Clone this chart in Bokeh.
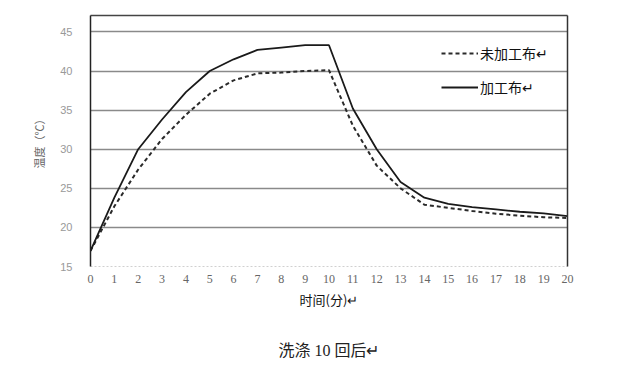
from bokeh.plotting import figure
from bokeh.models import (ColumnDataSource, FixedTicker, LinearAxis, Range1d,
                          Legend, LegendItem)
from bokeh.embed import file_html
from bokeh.resources import INLINE

minutes = list(range(21))
untreated = [17.0, 22.7, 27.4, 31.3, 34.4, 37.1, 38.8, 39.7, 39.8, 40.0, 40.1,
             33.0, 27.9, 25.0, 22.9, 22.5, 22.1, 21.75, 21.5, 21.3, 21.2]
treated = [17.0, 23.8, 30.0, 33.8, 37.3, 40.0, 41.5, 42.7, 43.0, 43.3, 43.3,
           35.2, 30.0, 25.8, 23.8, 23.0, 22.6, 22.3, 22.0, 21.8, 21.45]
y_ticks = [15, 20, 25, 30, 35, 40, 45]
x_ticks = list(range(21))
label_untreated = "未加工布↵"
label_treated = "加工布↵"
x_label = "时间(分)↵"
y_label = "温度（℃）"
caption = "洗涤 10 回后↵"

src = ColumnDataSource(dict(t=minutes, u=untreated, v=treated))

p = figure(width=606, height=362, output_backend="svg", toolbar_location=None,
           x_range=Range1d(0, 20), y_range=Range1d(15, 47.1),
           min_border_left=90, min_border_right=39, min_border_top=15,
           min_border_bottom=96)
p.outline_line_color = None
p.background_fill_color = "white"
p.border_fill_color = "white"

# grid
p.xgrid.visible = False
p.ygrid.ticker = FixedTicker(ticks=y_ticks[1:])
p.ygrid.grid_line_color = "#8a8a8a"
p.ygrid.grid_line_width = 1.5

# axes
xa = p.xaxis[0]
xa.ticker = FixedTicker(ticks=x_ticks)
xa.axis_line_color = "#d0d0d0"
xa.axis_line_dash = "2 2"
xa.major_tick_line_color = None
xa.minor_tick_line_color = None
xa.major_label_standoff = 2
xa.major_label_text_font = "Liberation Serif"
xa.major_label_text_font_size = "12px"
xa.major_label_text_color = "#666666"
xa.axis_label = x_label
xa.axis_label_text_font = "Noto Sans CJK SC"
xa.axis_label_text_font_size = "13px"
xa.axis_label_text_font_style = "normal"
xa.axis_label_text_color = "#111111"
xa.axis_label_standoff = 4

# caption as the label of a bare axis stacked below the x axis
cap_ax = LinearAxis(ticker=FixedTicker(ticks=[]), axis_line_color=None,
                    major_tick_line_color=None, minor_tick_line_color=None,
                    major_label_text_font_size="0px",
                    axis_label=caption, axis_label_standoff=30,
                    axis_label_text_font="Liberation Serif, Noto Sans CJK SC",
                    axis_label_text_font_size="16px",
                    axis_label_text_font_style="normal",
                    axis_label_text_color="#222222")
p.add_layout(cap_ax, "below")

ya = p.yaxis[0]
ya.ticker = FixedTicker(ticks=y_ticks)
ya.axis_line_color = "#222222"
ya.axis_line_width = 1.5
ya.major_tick_line_color = None
ya.minor_tick_line_color = None
ya.major_label_standoff = 12
ya.major_label_text_font = "Liberation Sans"
ya.major_label_text_font_size = "11px"
ya.major_label_text_color = "#999999"
ya.axis_label = y_label
ya.axis_label_text_font = "Noto Sans CJK SC"
ya.axis_label_text_font_size = "11px"
ya.axis_label_text_font_style = "normal"
ya.axis_label_text_color = "#666666"
ya.axis_label_standoff = 10

right_ax = LinearAxis(ticker=FixedTicker(ticks=[]), axis_line_color="#333333",
                      axis_line_width=1.5, major_tick_line_color=None,
                      minor_tick_line_color=None, major_label_text_font_size="0px")
p.add_layout(right_ax, "right")
top_ax = LinearAxis(ticker=FixedTicker(ticks=[]), axis_line_color="#444444",
                    axis_line_width=1.5, major_tick_line_color=None,
                    minor_tick_line_color=None, major_label_text_font_size="0px")
p.add_layout(top_ax, "above")

r_u = p.line("t", "u", source=src, line_color="#2a2a2a", line_width=2,
             line_dash="4 3")
r_t = p.line("t", "v", source=src, line_color="#1a1a1a", line_width=1.8)

legend = Legend(items=[LegendItem(label=label_untreated, renderers=[r_u]),
                       LegendItem(label=label_treated, renderers=[r_t])],
                location=(351, 169))
legend.border_line_color = None
legend.background_fill_alpha = 0
legend.padding = 0
legend.margin = 0
legend.spacing = 14
legend.glyph_width = 37
legend.glyph_height = 20
legend.label_height = 20
legend.label_standoff = 2
legend.label_text_font = "Noto Sans CJK SC"
legend.label_text_font_size = "14px"
legend.label_text_color = "#111111"
p.add_layout(legend)

open("out.html", "w").write(file_html(p, INLINE))
